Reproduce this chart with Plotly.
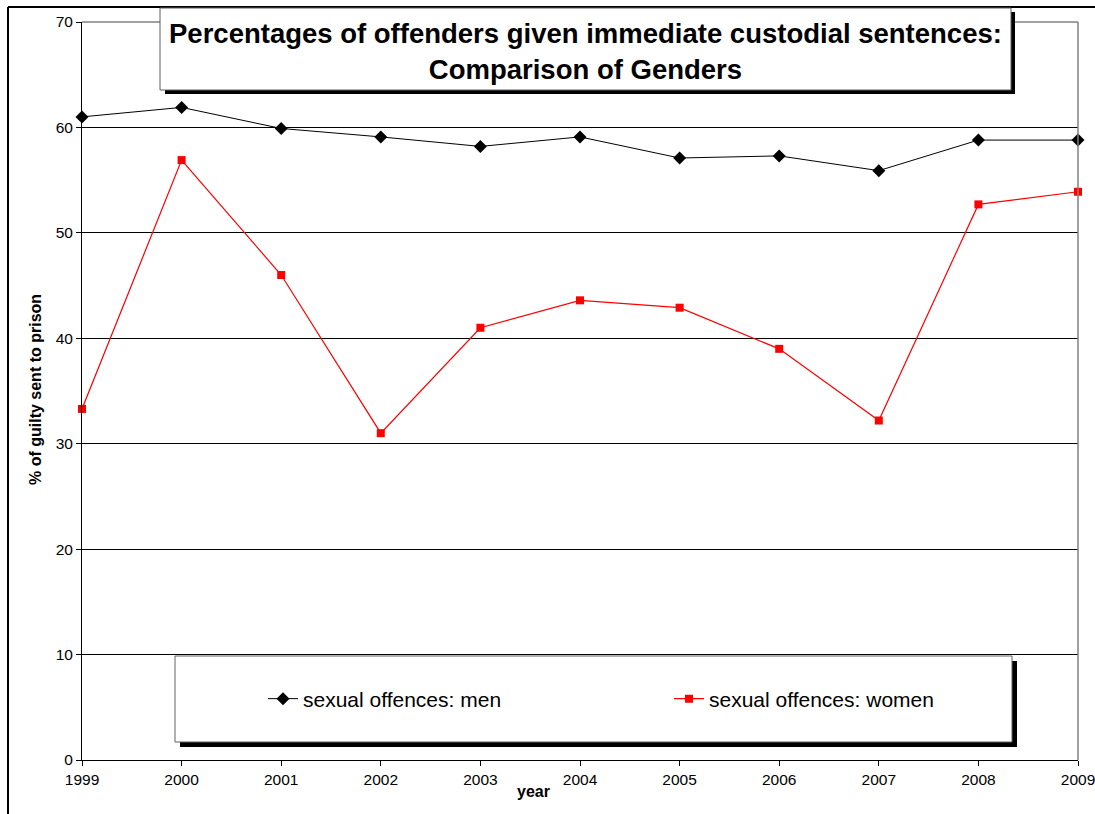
import plotly.graph_objects as go

years = [1999, 2000, 2001, 2002, 2003, 2004, 2005, 2006, 2007, 2008, 2009]
men = [61.0, 61.9, 59.9, 59.1, 58.2, 59.1, 57.1, 57.3, 55.9, 58.8, 58.8]
women = [33.3, 56.9, 46.0, 31.0, 41.0, 43.6, 42.9, 39.0, 32.2, 52.7, 53.9]
y_ticks = [0, 10, 20, 30, 40, 50, 60, 70]

W, H = 1095, 814
L, R, T, B = 82, 17, 22, 54
PW, PH = W - L - R, H - T - B
FONT = "Arial, Liberation Sans, sans-serif"


def px(x):
    return (x - L) / PW


def py(y):
    return (H - B - y) / PH


fig = go.Figure()
fig.add_trace(go.Scatter(
    x=years, y=men, mode="lines+markers", name="sexual offences: men",
    line=dict(color="black", width=1),
    marker=dict(symbol="diamond", size=10, color="black"),
    cliponaxis=False, legend="legend",
))
fig.add_trace(go.Scatter(
    x=years, y=women, mode="lines+markers", name="sexual offences: women",
    line=dict(color="#ff0000", width=1.2),
    marker=dict(symbol="square", size=8, color="#ff0000"),
    cliponaxis=False, legend="legend2",
))

shapes = []
# outer frame (left and top)
shapes.append(dict(type="line", xref="paper", yref="paper", x0=px(8), x1=px(8), y0=py(7), y1=py(820),
                   line=dict(color="black", width=2), layer="above"))
shapes.append(dict(type="line", xref="paper", yref="paper", x0=px(8), x1=px(1100), y0=py(7), y1=py(7),
                   line=dict(color="black", width=2), layer="above"))
# plot area top and right border (gray)
shapes.append(dict(type="line", xref="paper", yref="paper", x0=0, x1=1, y0=1, y1=1,
                   line=dict(color="#808080", width=1.5), layer="above"))
shapes.append(dict(type="line", xref="paper", yref="paper", x0=1, x1=1, y0=0, y1=1,
                   line=dict(color="#808080", width=1.5), layer="above"))
# title box shadow + box
shapes.append(dict(type="rect", xref="paper", yref="paper", x0=px(165), x1=px(1015), y0=py(12), y1=py(94),
                   fillcolor="black", line=dict(width=0), layer="above"))
shapes.append(dict(type="rect", xref="paper", yref="paper", x0=px(160), x1=px(1011), y0=py(8), y1=py(90),
                   fillcolor="white", line=dict(color="#606060", width=1), layer="above"))
# legend box shadow + box
shapes.append(dict(type="rect", xref="paper", yref="paper", x0=px(180), x1=px(1017), y0=py(661), y1=py(747),
                   fillcolor="black", line=dict(width=0), layer="above"))
shapes.append(dict(type="rect", xref="paper", yref="paper", x0=px(175), x1=px(1012), y0=py(656), y1=py(742),
                   fillcolor="white", line=dict(color="#606060", width=1), layer="above"))

annotations = [
    dict(text="<b>Percentages of offenders given immediate custodial sentences:<br>Comparison of Genders</b>",
         xref="paper", yref="paper", x=px(585.5), y=py(51), xanchor="center", yanchor="middle",
         showarrow=False, font=dict(family=FONT, size=27.5, color="black"), align="center"),
    dict(text="<b>% of guilty sent to prison</b>", xref="paper", yref="paper", x=px(35), y=py(390),
         xanchor="center", yanchor="middle", textangle=-90, showarrow=False,
         font=dict(family=FONT, size=16, color="black")),
    dict(text="<b>year</b>", xref="paper", yref="paper", x=px(533), y=py(791),
         xanchor="center", yanchor="middle", showarrow=False,
         font=dict(family=FONT, size=16, color="black")),
]

leg_common = dict(orientation="h", yanchor="middle", xanchor="left",
                  bgcolor="rgba(0,0,0,0)", borderwidth=0,
                  font=dict(family=FONT, size=21, color="black"), itemwidth=30)

fig.update_layout(
    width=W, height=H,
    margin=dict(l=L, r=R, t=T, b=B, autoexpand=False),
    paper_bgcolor="white", plot_bgcolor="white",
    font=dict(family=FONT, size=15, color="black"),
    showlegend=True,
    legend=dict(x=px(263), y=py(699), **leg_common),
    legend2=dict(x=px(669), y=py(699), **leg_common),
    shapes=shapes,
    annotations=annotations,
    xaxis=dict(range=[1999, 2009], tickvals=years, ticktext=[str(y) for y in years],
               showgrid=False, zeroline=False, showline=True, linecolor="black", linewidth=1,
               ticks="outside", ticklen=5, tickcolor="black", tickfont=dict(size=15.5),
               ticklabeloverflow="allow"),
    yaxis=dict(range=[0, 70], tickvals=y_ticks, showgrid=True, gridcolor="black", gridwidth=1,
               zeroline=False, showline=True, linecolor="black", linewidth=1,
               ticks="outside", ticklen=5, tickcolor="black", tickfont=dict(size=15.5),
               ticklabeloverflow="allow"),
)

fig.write_html("out.html")
